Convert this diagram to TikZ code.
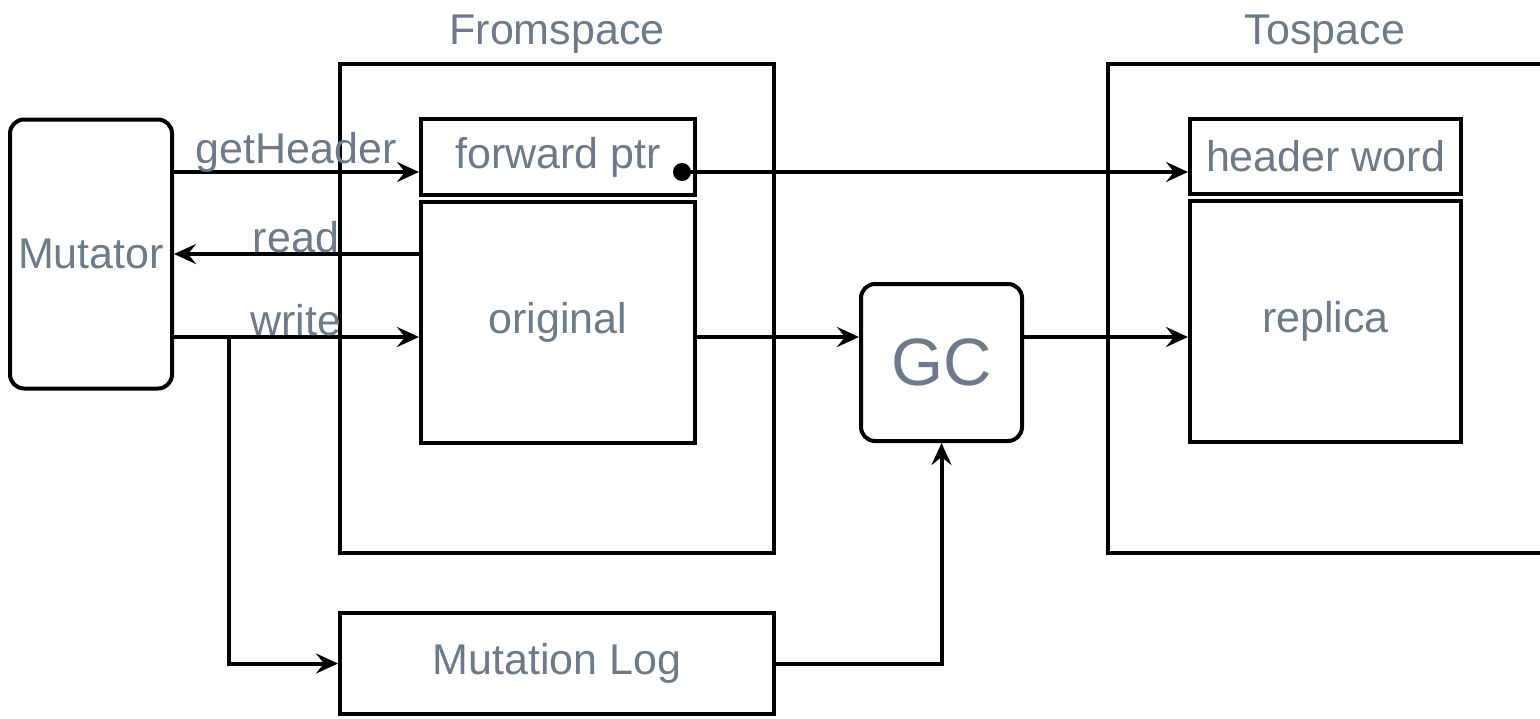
\documentclass[tikz,border=0pt]{standalone}
\usepackage{fontspec}
\setmainfont{Liberation Sans}
\usetikzlibrary{arrows.meta}
\definecolor{labelgray}{RGB}{108,122,137}
\begin{document}
\begin{tikzpicture}[x=0.5pt,y=-0.5pt,
  every node/.style={text=labelgray, font=\fontsize{21.5}{26}\selectfont},
  box/.style={draw=black, line width=2pt, rectangle, inner sep=0pt},
  rbox/.style={box, rounded corners=7pt},
  conn/.style={draw=black, line width=2pt, -{Stealth[length=11pt,width=10pt,inset=4pt]}},
  lbl/.style={anchor=base}]
\useasboundingbox (0,0) rectangle (1540,718);

% mutator
\node[rbox, minimum width=81pt, minimum height=134.5pt] (mut) at (91,254) {Mutator};

% from-space with the original object
\node[box, minimum width=217pt, minimum height=244.5pt] (from) at (557,308.5) {};
\node[lbl] (fromlbl) at (557,44) {Fromspace};
\node[box, minimum width=137pt, minimum height=38pt] (fwd) at (558,157) {forward ptr};
\node[box, minimum width=137pt, minimum height=120.5pt] (orig) at (558,322.5) {original};

% to-space with the replica
\node[box, minimum width=217pt, minimum height=244.5pt] (to) at (1325,308.5) {};
\node[lbl] (tolbl) at (1325,44) {Tospace};
\node[box, minimum width=135.5pt, minimum height=37.5pt] (hdr) at (1325.5,156.5) {header word};
\node[box, minimum width=135.5pt, minimum height=120.5pt] (rep) at (1325.5,321.5) {replica};

% collector and log
\node[rbox, minimum width=80.5pt, minimum height=78.5pt, font=\fontsize{33.5}{40}\selectfont] (gc) at (941.5,362.5) {GC};
\node[box, minimum width=217pt, minimum height=50.5pt] (mlog) at (557,663.5) {Mutation Log};

% heights of the horizontal connectors
\coordinate (yh) at (0,172);
\coordinate (yr) at (0,254);
\coordinate (yw) at (0,337);
\coordinate (split) at (229,337);

% mutator <-> from-space
\draw[conn] (mut.east |- yh) -- (fwd.west |- yh);
\draw[conn] (orig.west |- yr) -- (mut.east |- yr);
\draw[conn] (mut.east |- yw) -- (orig.west |- yw);
\node[lbl] (lget) at (296,163) {getHeader};
\node[lbl] (lread) at (296,252) {read};
\node[lbl] (lwrite) at (296,335) {write};

% writes are also logged
\draw[conn] (split) |- (mlog.west);
\draw[conn] (mlog.east) -| (gc.south);

% copying
\draw[conn] (orig.east |- yw) -- (gc.west |- yw);
\draw[conn] (gc.east |- yw) -- (rep.west |- yw);

% forwarding pointer
\node[circle, fill=black, draw=none, inner sep=0pt, minimum size=9pt] (dot) at (682,172) {};
\draw[conn] (dot.center) -- (hdr.west |- dot.center);
\end{tikzpicture}
\end{document}
